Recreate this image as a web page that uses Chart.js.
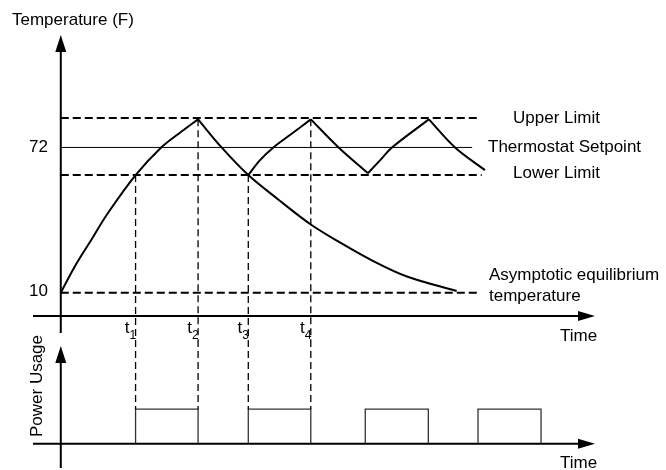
<!DOCTYPE html>
<html>
<head>
<meta charset="utf-8">
<script src="https://cdn.jsdelivr.net/npm/chart.js@4.4.0/dist/chart.umd.min.js"></script>
<style>
  html, body { margin: 0; padding: 0; background: #fff; }
  #wrap { width: 666px; height: 470px; }
</style>
</head>
<body>
<div id="wrap"><canvas id="thermo" width="666" height="470"></canvas></div>
<script>
// switching instants t1..t4 and the temperature at which each happens
const switchTimes = [14, 25.7, 35.1, 46.8];
const switchNames = ['1', '2', '3', '4'];
const switchTemps = [60.2, 84, 60.2, 84];

// reference levels (F) and where their lines stop on the time axis
const levelNames = ['Upper Limit', 'Thermostat Setpoint', 'Lower Limit', 'Asymptotic equilibrium'];
const levelValues = [84.6, 72, 60.2, 10];
const levelEnds = [78.5, 77, 78.8, 78.5];

// temperature curve pieces: [time, temp]
const heat1 = [[0, 10], [2.6, 21.1], [5.7, 32.5], [8.8, 43.9], [14, 60.2], [18.8, 72], [22.6, 78.8], [25.7, 84]];
const cool1 = [[25.7, 84], [30.1, 72], [35.1, 60.2], [40.7, 49.8], [46.8, 39.1], [52.3, 31.4], [58.5, 23.5], [64.8, 16.9], [74.1, 10.7]];
const heat2 = [[35.1, 60.2], [37.3, 66.6], [39.8, 72], [42.9, 77.3], [46.8, 84]];
const cool2 = [[46.8, 84], [52, 72], [57.5, 61]];
const heat3 = [[57.5, 61], [59.8, 66.6], [62, 72], [68.9, 84]];
const cool3 = [[68.9, 84], [73.8, 72], [79.4, 62.3]];

// heater power pulses
const pulseOn = [14, 35.1, 57, 78.1];
const pulseOff = [25.7, 46.8, 68.8, 89.9];
const pulseLevel = 1;

const TEMP_MIN = -10.2, TEMP_MAX = 120;
const POWER_MIN = -0.7, POWER_MAX = 3;
const FONT = '17px "Liberation Sans", Arial, sans-serif';

function pts(arr) {
    return arr.map(function(p){ return {x: p[0], y: p[1]}; });
}

function curve(arr) {
    return {
        data: pts(arr), yAxisID: 'yT', borderColor: '#000', borderWidth: 2,
        pointRadius: 0, tension: 0.35, fill: false
    };
}

var datasets = [heat1, cool1, heat2, cool2, heat3, cool3].map(curve);

// horizontal reference lines
levelValues.forEach(function(v, i){
    datasets.push({
        data: [{x: 0, y: v}, {x: levelEnds[i], y: v}], yAxisID: 'yT',
        borderColor: '#000', borderWidth: i == 1 ? 1 : 2,
        borderDash: i == 1 ? [] : [8, 4], pointRadius: 0
    });
});

// dashed drop lines t1..t4, top panel and bottom panel
switchTimes.forEach(function(t, i){
    datasets.push({
        data: [{x: t, y: switchTemps[i]}, {x: t, y: TEMP_MIN}], yAxisID: 'yT',
        borderColor: '#000', borderWidth: 1.3, borderDash: [7, 4], pointRadius: 0
    });
    datasets.push({
        data: [{x: t, y: POWER_MAX}, {x: t, y: pulseLevel}], yAxisID: 'yP',
        borderColor: '#000', borderWidth: 1.3, borderDash: [7, 4], pointRadius: 0
    });
});

// power pulses as outlined boxes
var pulsePts = [];
pulseOn.forEach(function(on, i){
    var off = pulseOff[i];
    pulsePts.push({x: on, y: 0}, {x: on, y: pulseLevel}, {x: off, y: pulseLevel}, {x: off, y: 0}, {x: off, y: null});
});
datasets.push({
    data: pulsePts, yAxisID: 'yP', borderColor: '#333', borderWidth: 1.3, pointRadius: 0, spanGaps: false
});

function arrowUp(ctx, x, y) {
    ctx.beginPath();
    ctx.moveTo(x, y);
    ctx.lineTo(x - 5.5, y + 17);
    ctx.lineTo(x + 5.5, y + 17);
    ctx.closePath();
    ctx.fill();
}

function arrowRight(ctx, x, y) {
    ctx.beginPath();
    ctx.moveTo(x, y);
    ctx.lineTo(x - 17, y - 5);
    ctx.lineTo(x - 17, y + 5);
    ctx.closePath();
    ctx.fill();
}

function seg(ctx, x1, y1, x2, y2) {
    ctx.beginPath();
    ctx.moveTo(x1, y1);
    ctx.lineTo(x2, y2);
    ctx.stroke();
}

// axes, arrows and all the labels
const diagram = {
    id: 'diagram',
    afterDatasetsDraw(chart) {
        const ctx = chart.ctx;
        const x = chart.scales.x, yT = chart.scales.yT, yP = chart.scales.yP;
        const x0 = x.getPixelForValue(0);
        ctx.save();
        ctx.strokeStyle = '#000';
        ctx.fillStyle = '#000';
        ctx.lineWidth = 2;

        // temperature panel
        seg(ctx, x0, yT.getPixelForValue(TEMP_MAX) + 12, x0, yT.getPixelForValue(-7.2));
        arrowUp(ctx, x0, yT.getPixelForValue(TEMP_MAX));
        var yAx = yT.getPixelForValue(0);
        seg(ctx, x.left, yAx, x.right - 12, yAx);
        arrowRight(ctx, x.right, yAx);

        // power panel
        var tip = yP.getPixelForValue(2.83);
        seg(ctx, x0, tip + 12, x0, yP.getPixelForValue(POWER_MIN));
        arrowUp(ctx, x0, tip);
        var yAx2 = yP.getPixelForValue(0);
        seg(ctx, x.left, yAx2, x.right - 12, yAx2);
        arrowRight(ctx, x.right, yAx2);

        ctx.font = FONT;
        ctx.textBaseline = 'middle';
        ctx.textAlign = 'left';
        ctx.fillText('Temperature (F)', 12, 20);
        ctx.fillText('Time', 560, yAx + 20);
        ctx.fillText('Time', 560, yAx2 + 20);

        ctx.fillText(levelNames[0], 513, yT.getPixelForValue(levelValues[0]));
        ctx.fillText(levelNames[1], 488, yT.getPixelForValue(levelValues[1]));
        ctx.fillText(levelNames[2], 513, yT.getPixelForValue(levelValues[2]) - 2);
        ctx.fillText(levelNames[3], 489, yT.getPixelForValue(levelValues[3]) - 17);
        ctx.fillText('temperature', 489, yT.getPixelForValue(levelValues[3]) + 4);

        ctx.textAlign = 'right';
        ctx.fillText('72', 48, yT.getPixelForValue(72));
        ctx.fillText('10', 48, yT.getPixelForValue(10) - 1);

        // t1..t4 with subscripts
        switchTimes.forEach(function(t, i){
            var px = x.getPixelForValue(t);
            ctx.textAlign = 'right';
            ctx.textBaseline = 'alphabetic';
            ctx.font = FONT;
            ctx.fillText('t', px - 6, yAx + 17);
            ctx.textAlign = 'left';
            ctx.font = '12px "Liberation Sans", Arial, sans-serif';
            ctx.fillText(switchNames[i], px - 6, yAx + 23);
        });

        // rotated power label
        ctx.font = FONT;
        ctx.translate(37, 386);
        ctx.rotate(-Math.PI / 2);
        ctx.textAlign = 'center';
        ctx.textBaseline = 'middle';
        ctx.fillText('Power Usage', 0, 0);
        ctx.restore();
    }
};

new Chart(document.getElementById('thermo'), {
    type: 'line',
    data: { datasets: datasets },
    options: {
        responsive: false,
        devicePixelRatio: 1,
        animation: false,
        events: [],
        layout: { autoPadding: false, padding: { left: 33, right: 71, top: 35, bottom: 2 } },
        plugins: { legend: { display: false }, tooltip: { enabled: false } },
        scales: {
            x: { type: 'linear', min: -5.2, max: 100, display: false },
            yT: { type: 'linear', position: 'left', stack: 'panels', stackWeight: 305, weight: 1, min: TEMP_MIN, max: TEMP_MAX, display: false },
            yP: { type: 'linear', position: 'left', stack: 'panels', stackWeight: 128, weight: 0, min: POWER_MIN, max: POWER_MAX, display: false }
        }
    },
    plugins: [diagram]
});
</script>
</body>
</html>
